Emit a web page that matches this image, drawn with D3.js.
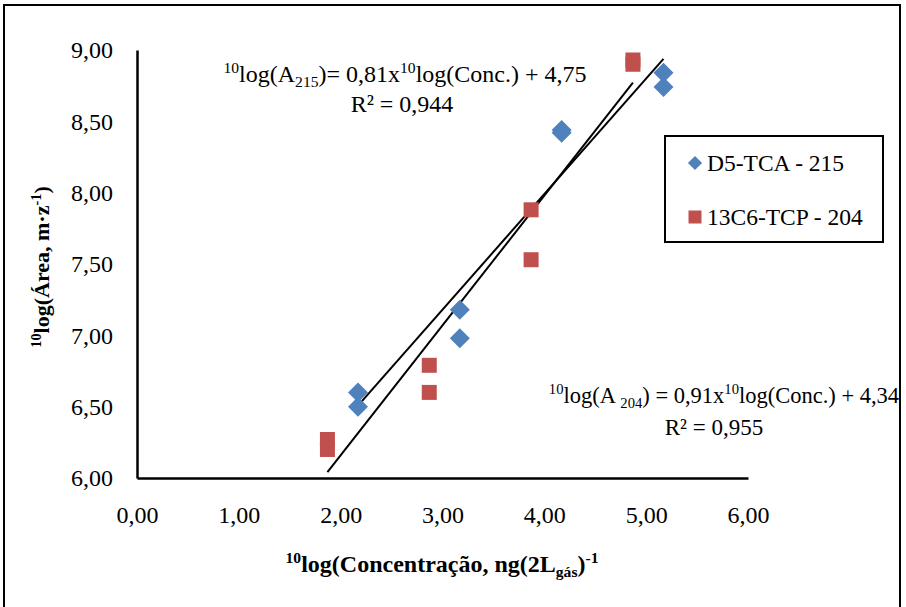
<!DOCTYPE html>
<html>
<head>
<meta charset="utf-8">
<script src="https://cdn.jsdelivr.net/npm/d3@7"></script>
<style>
	body { margin: 0; background: white; }
</style>
</head>
<body>
<script>

// data
var xTicks = [0, 1, 2, 3, 4, 5, 6];
var yTicks = [6, 6.5, 7, 7.5, 8, 8.5, 9];

var tcaX = [2.17, 2.17, 3.17, 3.17, 4.17, 4.17, 5.17, 5.17];
var tcaY = [6.60, 6.50, 7.18, 6.98, 8.44, 8.42, 8.84, 8.74];
var tcpX = [1.87, 1.87, 2.87, 2.87, 3.87, 3.87, 4.87, 4.87];
var tcpY = [6.27, 6.20, 6.79, 6.60, 7.88, 7.53, 8.93, 8.90];

var seriesNames = ["D5-TCA - 215", "13C6-TCP - 204"];
var seriesColors = ["#4F81BD", "#C0504D"];
// trendline coefficients as printed on the chart
var slopes = [0.81, 0.91];
var intercepts = [4.75, 4.34];

var W = 906, H = 607;
var FONT = '"Liberation Serif", "Times New Roman", "DejaVu Serif", serif';
var fmt = function(v){ return d3.format(".2f")(v).replace(".", ","); };

var svg = d3.select("body").append("svg")
	.attr("width", W)
	.attr("height", H)
	.attr("font-family", FONT);

// chart frame
svg.append("rect")
	.attr("x", 4).attr("y", 5)
	.attr("width", 896).attr("height", 610)
	.attr("fill", "none")
	.attr("stroke", "black")
	.attr("stroke-width", 2);

var x = d3.scaleLinear().domain([0, 6]).range([137, 748]);
var y = d3.scaleLinear().domain([6, 9]).range([478, 50]);

// axes
var xAxis = svg.append("g")
	.attr("transform", "translate(0," + y(6) + ")")
	.call(d3.axisBottom(x).tickValues(xTicks).tickFormat(fmt).tickSize(0).tickPadding(28));
var yAxis = svg.append("g")
	.attr("transform", "translate(" + x(0) + ",0)")
	.call(d3.axisLeft(y).tickValues(yTicks).tickFormat(fmt).tickSize(0).tickPadding(24));

[xAxis, yAxis].forEach(function(a){
	a.attr("font-family", FONT).attr("font-size", 24);
	a.select(".domain").attr("stroke", "black").attr("stroke-width", 2.5);
	a.selectAll("text").attr("fill", "black");
});

// trendlines
var line = d3.line()
	.x(function(d){ return x(d[0]); })
	.y(function(d){ return y(d[1]); });

[tcaX, tcpX].forEach(function(xs, i){
	var ext = d3.extent(xs);
	var pts = ext.map(function(v){ return [v, slopes[i]*v + intercepts[i]]; });
	svg.append("path")
		.attr("d", line(pts))
		.attr("fill", "none")
		.attr("stroke", "black")
		.attr("stroke-width", 2);
});

// markers
var diamond = d3.symbol().type(d3.symbolSquare).size(200);
var square = d3.symbol().type(d3.symbolSquare).size(225);

svg.append("g").selectAll("path")
	.data(d3.zip(tcpX, tcpY))
	.enter().append("path")
		.attr("d", square)
		.attr("transform", function(d){ return "translate(" + x(d[0]) + "," + y(d[1]) + ")"; })
		.attr("fill", seriesColors[1]);

svg.append("g").selectAll("path")
	.data(d3.zip(tcaX, tcaY))
	.enter().append("path")
		.attr("d", diamond)
		.attr("transform", function(d){ return "translate(" + x(d[0]) + "," + y(d[1]) + ")rotate(45)"; })
		.attr("fill", seriesColors[0]);

// text with super / subscripts
function richText(parent, cx, cy, parts, size, bold){
	var t = parent.append("text")
		.attr("x", cx).attr("y", cy)
		.attr("text-anchor", "middle")
		.attr("font-family", FONT)
		.attr("font-size", size)
		.attr("font-weight", bold ? "bold" : "normal");
	var shift = 0;
	parts.forEach(function(p){
		var dy = 0, fs = size;
		if (p[1] == "sup") { dy = -0.38*size; fs = 0.65*size; }
		if (p[1] == "sub") { dy = 0.2*size; fs = 0.65*size; }
		t.append("tspan")
			.attr("dy", dy - shift)
			.attr("font-size", fs)
			.text(p[0]);
		shift = dy;
	});
	return t;
}

richText(svg, 405, 82, [["10","sup"],["log(A",""],["215","sub"],[")= 0,81x",""],["10","sup"],["log(Conc.) + 4,75",""]], 24);
richText(svg, 402, 112, [["R² = 0,944",""]], 24);
richText(svg, 724, 403, [["10","sup"],["log(A ",""],["204","sub"],[") = 0,91x",""],["10","sup"],["log(Conc.) + 4,34",""]], 22.5);
richText(svg, 714, 435, [["R² = 0,955",""]], 23);

// axis titles
richText(svg, 442, 572, [["10","sup"],["log(Concentração, ng(2L",""],["gás","sub"],[")",""],["-1","sup"]], 24, true);
richText(svg.append("g").attr("transform", "translate(49,267)rotate(-90)"), 0, 0,
	[["10","sup"],["log(Área, m·z",""],["-1","sup"],[")",""]], 22, true);

// legend
var leg = svg.append("g");
leg.append("rect")
	.attr("x", 665).attr("y", 136)
	.attr("width", 218).attr("height", 106)
	.attr("fill", "white")
	.attr("stroke", "black")
	.attr("stroke-width", 2);

var legY = [163, 217];
seriesNames.forEach(function(name, i){
	var sym = i == 0 ? d3.symbol().type(d3.symbolSquare).size(100) : d3.symbol().type(d3.symbolSquare).size(169);
	leg.append("path")
		.attr("d", sym)
		.attr("transform", "translate(695," + legY[i] + ")" + (i == 0 ? "rotate(45)" : ""))
		.attr("fill", seriesColors[i]);
	leg.append("text")
		.attr("x", 707).attr("y", legY[i] + 8)
		.attr("font-family", FONT)
		.attr("font-size", 23.5)
		.text(name);
});

</script>
</body>
</html>
